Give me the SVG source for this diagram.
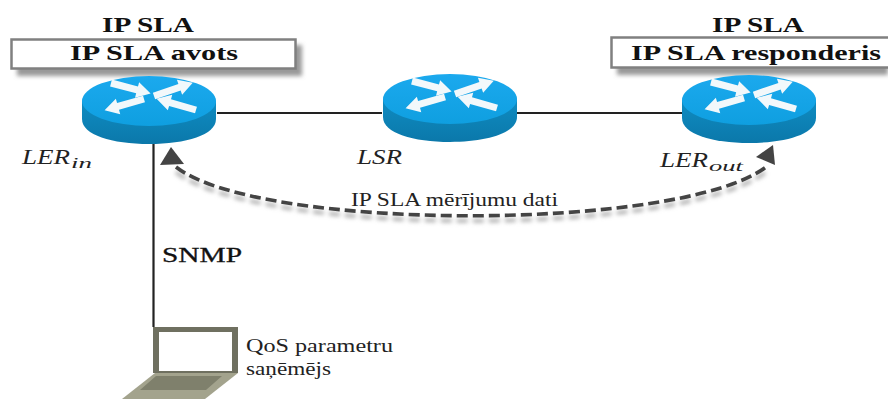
<svg xmlns="http://www.w3.org/2000/svg" width="888" height="399" viewBox="0 0 888 399">
<style>
.t{font-family:"Liberation Serif",serif;fill:#111}
.b{font-weight:bold;font-size:22px}
.i{font-style:italic;font-size:21px;fill:#222}
.sub{font-style:italic;font-size:15px;fill:#222}
.r{font-size:18px;fill:#222}
.box{fill:#fff;stroke:#808080;stroke-width:2.5}
.shb{fill:#999;filter:url(#bl)}
.link{fill:none;stroke:#222;stroke-width:2.2}
.dash{fill:none;stroke:#444;stroke-width:3.6;stroke-dasharray:11 5}
.dsh{fill:none;stroke:#aaa;stroke-width:3.6;stroke-dasharray:11 5;filter:url(#bl)}
</style>
<defs>
<filter id="bl" x="-20%" y="-50%" width="140%" height="200%"><feGaussianBlur stdDeviation="2"/></filter>
<linearGradient id="top" x1="0" y1="0" x2="0" y2="1"><stop offset="0" stop-color="#1ba9ee"/><stop offset="1" stop-color="#0f9fe0"/></linearGradient>
<linearGradient id="side" x1="0" y1="0" x2="0" y2="1"><stop offset="0" stop-color="#0f8cc2"/><stop offset="1" stop-color="#0b78aa"/></linearGradient>
<path id="ar" d="M0-3.500H27V-8L41 0 27 8V3.500H0Z" fill="#f2f8fb"/>
<symbol id="router" overflow="visible">
<path d="M-67 0V18C-67 34-37 43 0 43S67 34 67 18V0Z" fill="url(#side)"/>
<ellipse cx="0" cy="0" rx="67" ry="25" fill="url(#top)"/>
<use href="#ar" transform="translate(-38 -18) rotate(15)"/>
<use href="#ar" transform="translate(5 -5) rotate(-19)"/>
<use href="#ar" transform="translate(-5 -2) rotate(164)"/>
<use href="#ar" transform="translate(47 9) rotate(196)"/>
</symbol>
</defs>
<rect width="888" height="399" fill="#fff"/>
<g id="connectors">
<path class="link" d="M217 113H382"/>
<path class="link" d="M517 113H682"/>
<path class="link" d="M153.500 143V327" stroke-width="2.500"/>
<path class="dsh" d="M176 167C260 232 680 232 766 167" transform="translate(0 5)"/>
<path class="dash" d="M176 167C260 232 680 232 766 167"/>
<path d="M171 147 184 164 160 165Z" fill="#444"/>
<path d="M773 145 775 165 756 157Z" fill="#444"/>
</g>
<g id="ip-sla-avots">
<rect class="shb" x="17" y="45" width="285" height="31"/>
<rect class="box" x="11.500" y="39.500" width="284" height="29"/>
<text class="t b" x="102" y="32" textLength="92" lengthAdjust="spacingAndGlyphs">IP SLA</text>
<text class="t b" x="70" y="60" textLength="168" lengthAdjust="spacingAndGlyphs">IP SLA avots</text>
</g>
<g id="ip-sla-responderis">
<rect class="shb" x="617" y="44" width="271" height="31"/>
<rect class="box" x="611.500" y="37.500" width="282" height="30"/>
<text class="t b" x="712" y="32" textLength="92" lengthAdjust="spacingAndGlyphs">IP SLA</text>
<text class="t b" x="631" y="60" textLength="250" lengthAdjust="spacingAndGlyphs">IP SLA responderis</text>
</g>
<g id="ler-in">
<use href="#router" x="149" y="101"/>
<text class="t i" x="22" y="164" textLength="48" lengthAdjust="spacingAndGlyphs">LER</text>
<text class="t sub" x="71" y="168" textLength="21" lengthAdjust="spacingAndGlyphs">in</text>
</g>
<g id="lsr">
<use href="#router" x="450" y="99"/>
<text class="t i" x="357" y="164" textLength="45" lengthAdjust="spacingAndGlyphs">LSR</text>
</g>
<g id="ler-out">
<use href="#router" x="749" y="100"/>
<text class="t i" x="660" y="167" textLength="48" lengthAdjust="spacingAndGlyphs">LER</text>
<text class="t sub" x="709" y="171" textLength="34" lengthAdjust="spacingAndGlyphs">out</text>
</g>
<g id="laptop">
<rect x="153" y="327" width="85" height="46" fill="#6f7060"/>
<rect x="159" y="332" width="73" height="39" fill="#fff"/>
<path d="M155 373H238L205 399H122Z" fill="#a3a38d"/>
<path d="M156 376H222L206 390H140Z" fill="#7f806c"/>
<text class="t r" x="246" y="352" textLength="147" lengthAdjust="spacingAndGlyphs">QoS parametru</text>
<text class="t r" x="246" y="375" textLength="85" lengthAdjust="spacingAndGlyphs">saņēmējs</text>
</g>
<text class="t r" x="351" y="206" textLength="207" lengthAdjust="spacingAndGlyphs">IP SLA mērījumu dati</text>
<text class="t" x="162" y="262" textLength="80" lengthAdjust="spacingAndGlyphs" style="font-size:20px;stroke:#111;stroke-width:.3">SNMP</text>
</svg>
